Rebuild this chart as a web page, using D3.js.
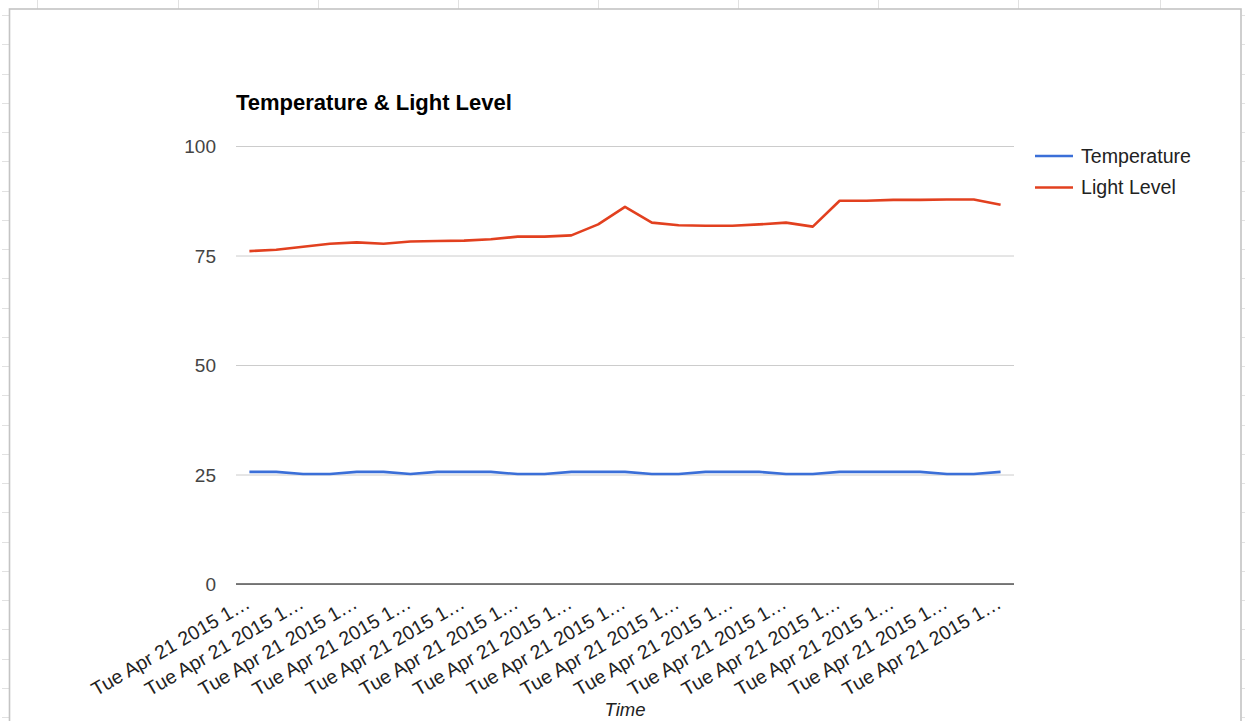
<!DOCTYPE html>
<html>
<head>
<meta charset="utf-8">
<script src="https://cdn.jsdelivr.net/npm/d3@7"></script>
<style>
  html, body { margin: 0; padding: 0; background: #fff; }
  svg { display: block; font-family: "Liberation Sans", Arial, Helvetica, sans-serif; }
</style>
</head>
<body>
<svg id="chart" width="1245" height="721"></svg>
<script>
// Readings, one per sample time
const categories = [
  "Tue Apr 21 2015 1…", "Tue Apr 21 2015 1…", "Tue Apr 21 2015 1…", "Tue Apr 21 2015 1…",
  "Tue Apr 21 2015 1…", "Tue Apr 21 2015 1…", "Tue Apr 21 2015 1…", "Tue Apr 21 2015 1…",
  "Tue Apr 21 2015 1…", "Tue Apr 21 2015 1…", "Tue Apr 21 2015 1…", "Tue Apr 21 2015 1…",
  "Tue Apr 21 2015 1…", "Tue Apr 21 2015 1…", "Tue Apr 21 2015 1…", "Tue Apr 21 2015 1…",
  "Tue Apr 21 2015 1…", "Tue Apr 21 2015 1…", "Tue Apr 21 2015 1…", "Tue Apr 21 2015 1…",
  "Tue Apr 21 2015 1…", "Tue Apr 21 2015 1…", "Tue Apr 21 2015 1…", "Tue Apr 21 2015 1…",
  "Tue Apr 21 2015 1…", "Tue Apr 21 2015 1…", "Tue Apr 21 2015 1…", "Tue Apr 21 2015 1…",
  "Tue Apr 21 2015 1…"
];
const temperature = [
  25.6, 25.6, 25.1, 25.1, 25.6, 25.6, 25.1, 25.6, 25.6, 25.6,
  25.1, 25.1, 25.6, 25.6, 25.6, 25.1, 25.1, 25.6, 25.6, 25.6,
  25.1, 25.1, 25.6, 25.6, 25.6, 25.6, 25.1, 25.1, 25.6
];
const lightLevel = [
  76.0, 76.3, 77.0, 77.7, 78.0, 77.7, 78.2, 78.3, 78.4, 78.7,
  79.3, 79.3, 79.6, 82.1, 86.1, 82.5, 81.9, 81.8, 81.8, 82.1,
  82.5, 81.6, 87.5, 87.5, 87.7, 87.7, 87.8, 87.8, 86.6
];
const seriesNames = ["Temperature", "Light Level"];
const yTicks = [0, 25, 50, 75, 100];
const chartTitle = "Temperature & Light Level";
const xAxisTitle = "Time";

const colors = ["#3b6fd8", "#e2401f"];
const series = [temperature, lightLevel];

const svg = d3.select("#chart");
const W = 1245, H = 721;

// Spreadsheet grid behind the chart
const sheet = svg.append("g").attr("stroke", "#e1e1e1").attr("stroke-width", 1);
[37, 178, 318, 458, 598, 738, 878, 1018, 1160].forEach(x => {
  sheet.append("line").attr("x1", x + 0.5).attr("x2", x + 0.5).attr("y1", 0).attr("y2", 9);
});
for (let y = 15; y < H; y += 29.25) {
  const yy = Math.round(y) + 0.5;
  sheet.append("line").attr("x1", 2).attr("x2", 9).attr("y1", yy).attr("y2", yy);
  sheet.append("line").attr("x1", 1242).attr("x2", W).attr("y1", yy).attr("y2", yy);
}

// Chart frame
svg.append("rect")
  .attr("x", 9.5).attr("y", 9).attr("width", 1231.5).attr("height", 800)
  .attr("fill", "#fff").attr("stroke", "#c4c4c4").attr("stroke-width", 1.6);

const plot = { left: 236, right: 1014, top: 146, bottom: 584 };

const x = d3.scalePoint()
  .domain(d3.range(categories.length))
  .range([plot.left, plot.right])
  .padding(0.5);

const y = d3.scaleLinear()
  .domain([0, 100])
  .range([plot.bottom, plot.top]);

// Title
svg.append("text")
  .attr("x", plot.left).attr("y", 110)
  .attr("font-size", 22).attr("font-weight", "bold").attr("fill", "#000")
  .text(chartTitle);

// Horizontal gridlines and value labels
const yAxis = d3.axisLeft(y).tickValues(yTicks).tickSize(-(plot.right - plot.left)).tickPadding(20);
const gy = svg.append("g").attr("transform", `translate(${plot.left},0)`).call(yAxis);
gy.select(".domain").remove();
gy.selectAll(".tick line").attr("stroke", "#cccccc").attr("stroke-width", 1);
gy.selectAll(".tick text")
  .attr("font-size", 19).attr("fill", "#444").attr("font-family", "Liberation Sans, Arial, sans-serif")
  .attr("x", -20).attr("dy", "0.36em");

// Zero baseline
svg.append("line")
  .attr("x1", plot.left).attr("x2", plot.right)
  .attr("y1", y(0)).attr("y2", y(0))
  .attr("stroke", "#555").attr("stroke-width", 1.5);

// Series lines
const line = d3.line().x((d, i) => x(i)).y(d => y(d));
series.forEach((vals, k) => {
  svg.append("path")
    .datum(vals)
    .attr("d", line)
    .attr("fill", "none")
    .attr("stroke", colors[k])
    .attr("stroke-width", 2.6)
    .attr("stroke-linejoin", "round");
});

// Category labels, every other sample, slanted
const labelIdx = d3.range(categories.length).filter(i => i % 2 === 0);
svg.append("g").selectAll("text")
  .data(labelIdx)
  .join("text")
  .attr("transform", i => `translate(${x(i) + 2},607) rotate(-30)`)
  .attr("text-anchor", "end")
  .attr("font-size", 19.5).attr("fill", "#222")
  .text(i => categories[i]);

// Axis title
svg.append("text")
  .attr("x", (plot.left + plot.right) / 2).attr("y", 716)
  .attr("text-anchor", "middle")
  .attr("font-size", 18.5).attr("font-style", "italic").attr("fill", "#222")
  .text(xAxisTitle);

// Legend
const legend = svg.append("g");
seriesNames.forEach((name, k) => {
  const ly = 156 + k * 31.5;
  legend.append("line")
    .attr("x1", 1035).attr("x2", 1073).attr("y1", ly).attr("y2", ly)
    .attr("stroke", colors[k]).attr("stroke-width", 2.6);
  legend.append("text")
    .attr("x", 1081).attr("y", ly).attr("dy", "0.35em")
    .attr("font-size", 19.6).attr("fill", "#222")
    .text(name);
});
</script>
</body>
</html>
